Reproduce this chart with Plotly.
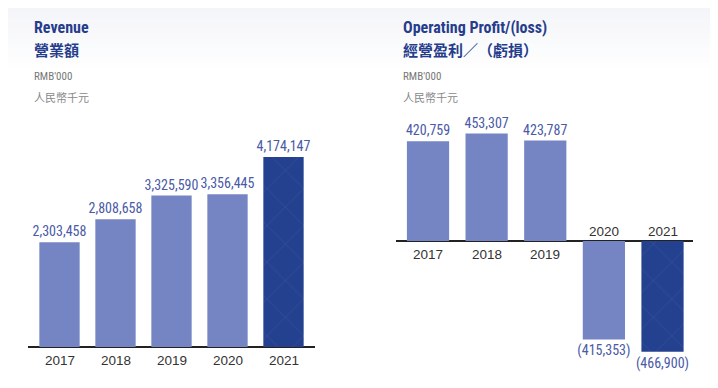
import plotly.graph_objects as go

years = ["2017", "2018", "2019", "2020", "2021"]
revenue = [2303458, 2808658, 3325590, 3356445, 4174147]
op_profit = [420759, 453307, 423787, -415353, -466900]

W, H = 718, 388
OFF = 8  # default page body margin
FW, FH = W - OFF, H - OFF
LIGHT = "#7585c3"
DARK = "#24418f"
TITLE_C = "#263d8c"
VAL_C = "#4a5aa6"
YEAR_C = "#333333"
NARROW = "Liberation Sans Narrow, Roboto Condensed, Arial Narrow, sans-serif"
CJK = "Noto Sans CJK TC, Noto Sans CJK SC, sans-serif"
YEAR_F = dict(family="Liberation Sans, Arial, sans-serif", size=13.5, color=YEAR_C)

def fx(px):
    return (px - OFF) / FW

def fy(py):
    return 1 - (py - OFF) / FH

def fmt(v):
    return f"{v:,}" if v >= 0 else f"({-v:,})"

colors = [LIGHT] * 4 + [DARK]
pattern = dict(shape=["", "", "", "", "x"], fgcolor="#4a6cc0", fgopacity=0.15,
               size=26, solidity=0.03)

fig = go.Figure()
fig.add_trace(go.Bar(
    x=list(range(len(years))), y=revenue, xaxis="x", yaxis="y",
    marker=dict(color=colors, line=dict(width=0), pattern=pattern),
    text=[fmt(v) for v in revenue], textposition="outside", constraintext="none",
    textfont=dict(family=NARROW, size=14, color=VAL_C),
    cliponaxis=False, hoverinfo="skip", showlegend=False,
))
fig.add_trace(go.Bar(
    x=list(range(len(years))), y=op_profit, xaxis="x2", yaxis="y2",
    marker=dict(color=colors, line=dict(width=0), pattern=pattern),
    text=[fmt(v) for v in op_profit], textposition="outside", constraintext="none",
    textfont=dict(family=NARROW, size=14, color=VAL_C),
    cliponaxis=False, hoverinfo="skip", showlegend=False,
))

# Left chart scale: baseline at py=347, 4,174,147 reaches py=157
left_scale = 190 / 4174147
left_top = (347 - 60) / left_scale
# Right chart scale: baseline at py=241
right_scale = 2.37e-4
right_top = (241 - 60) / right_scale
right_bot = -(372 - 241) / right_scale

annotations = []
for i, y in enumerate(years):
    annotations.append(dict(x=i, y=0, xref="x", yref="y", text=y, showarrow=False,
                            yanchor="top", yshift=-4, font=YEAR_F))
for i, (y, v) in enumerate(zip(years, op_profit)):
    annotations.append(dict(x=i, y=0, xref="x2", yref="y2", text=y, showarrow=False,
                            yanchor="top" if v >= 0 else "bottom",
                            yshift=-4 if v >= 0 else 0, font=YEAR_F))

def txt(px, py, text, size, color, family, bold=False):
    annotations.append(dict(x=fx(px), y=fy(py), xref="paper", yref="paper",
                            text=f"<b>{text}</b>" if bold else text, showarrow=False,
                            xanchor="left", yanchor="middle", xshift=-2,
                            font=dict(family=family, size=size, color=color)))

txt(34, 27, "Revenue", 16, TITLE_C, NARROW, True)
txt(34, 49, "營業額", 15, TITLE_C, CJK, True)
txt(34, 76, "RMB'000", 11, "#777777", NARROW)
txt(34, 97, "人民幣千元", 11, "#888888", CJK)

txt(403, 27, "Operating Profit/(loss)", 16, TITLE_C, NARROW, True)
txt(403, 49, "經營盈利／（虧損）", 15, TITLE_C, CJK, True)
txt(403, 76, "RMB'000", 11, "#777777", NARROW)
txt(403, 97, "人民幣千元", 11, "#888888", CJK)

shapes = []
steps = 12
for k in range(steps):
    shapes.append(dict(type="rect", xref="paper", yref="paper",
                       x0=0, x1=1, y0=fy(OFF + 5 * (k + 1)), y1=fy(OFF + 5 * k),
                       fillcolor="#e9ebf3", opacity=0.5 * (1 - k / steps),
                       line=dict(width=0), layer="below"))

fig.update_layout(
    width=FW, height=FH,
    margin=dict(l=0, r=0, t=0, b=0),
    paper_bgcolor="white", plot_bgcolor="rgba(0,0,0,0)",
    xaxis=dict(domain=[fx(28), fx(315)], range=[-0.5625, 4.5625],
               showticklabels=False, showgrid=False, zeroline=False, fixedrange=True),
    yaxis=dict(domain=[fy(347), fy(60)], range=[0, left_top], anchor="x",
               showticklabels=False, showgrid=False, zeroline=True,
               zerolinecolor="#222222", zerolinewidth=2, fixedrange=True),
    xaxis2=dict(domain=[fx(396), fx(693)], range=[-0.546, 4.52], anchor="y2",
                showticklabels=False, showgrid=False, zeroline=False, fixedrange=True),
    yaxis2=dict(domain=[fy(372), fy(60)], range=[right_bot, right_top], anchor="x2",
                showticklabels=False, showgrid=False, zeroline=True,
                zerolinecolor="#222222", zerolinewidth=2, fixedrange=True),
    annotations=annotations,
    shapes=shapes,
)
fig.update_traces(width=0.72)

fig.write_html("out.html")
